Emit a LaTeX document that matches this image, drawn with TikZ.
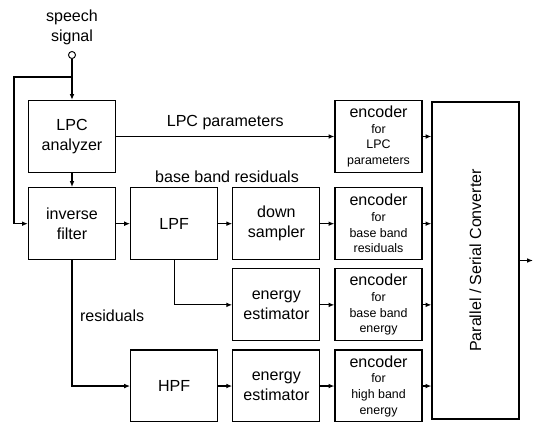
\documentclass[tikz,border=0pt]{standalone}
\usepackage{fontspec}
\setmainfont{Liberation Sans}
\usetikzlibrary{arrows.meta, positioning}

\newcommand{\bigtxt}{\fontsize{13.7}{17}\selectfont}
\newcommand{\smalltxt}{\fontsize{10.6}{13.4}\selectfont}

\tikzset{
  blk/.style={draw, line width=1pt, minimum width=2.61cm, minimum height=2.16cm, align=center, inner sep=1pt, font=\bigtxt},
  enc/.style={blk, font=\smalltxt},
  sig/.style={line width=1pt, -{Latex[length=5pt, width=4pt]}},
}

\begin{document}
\begin{tikzpicture}[x=0.03cm, y=-0.03cm, node distance=0.42cm]
  \useasboundingbox (0,0) rectangle (541,421);

  % input
  \node[align=center, font=\bigtxt, inner sep=0pt] (speech) at (72,27) {speech\\signal};
  \node[draw, circle, line width=0.8pt, minimum size=6pt, inner sep=0pt] (src) at (72,55) {};
  \coordinate (split) at (72,77);
  \coordinate (fbtop) at (14,77);

  % first two columns
  \node[blk] (lpc) at (72,136.5) {LPC\\analyzer};
  \node[blk, below=of lpc] (inv) {inverse\\filter};
  \node[blk, right=of inv] (lpf) {LPF};
  \node[blk, right=of lpf] (down) {down\\sampler};
  \node[blk, below=0.24cm of down] (eng1) {energy\\estimator};
  \node[blk, below=0.24cm of eng1] (eng2) {energy\\estimator};
  \node[blk, left=of eng2] (hpf) {HPF};

  % encoders
  \node[enc, right=of down] (encres) {{\bigtxt encoder}\\for\\base band\\residuals};
  \node[enc] (enclpc) at (encres |- lpc) {{\bigtxt encoder}\\for\\LPC\\parameters};
  \node[enc, right=of eng1] (enceng) {{\bigtxt encoder}\\for\\base band\\energy};
  \node[enc, right=of eng2] (enchigh) {{\bigtxt encoder}\\for\\high band\\energy};

  % converter
  \node[draw, line width=1pt, minimum width=2.61cm, minimum height=9.51cm] (psc) at (475.5,260.5) {};
  \node[rotate=90, font=\bigtxt] (psclabel) at (psc.center) {Parallel / Serial Converter};
  \coordinate (out) at (533,260.5);

  \node[font=\bigtxt] (bbres) at (227,177) {base band residuals};

  % connections
  \draw[line width=1pt] (src) -- (split);
  \draw[sig] (split) -- (lpc);
  \draw[sig] (split) -- (fbtop) |- (inv.west);
  \draw[sig] (lpc) -- (inv);
  \draw[sig] (lpc) -- node[above=2pt, font=\bigtxt] (lpclabel) {LPC parameters} (enclpc);
  \draw[sig] (inv) -- (lpf);
  \draw[sig] (lpf) -- (down);
  \draw[sig] (down) -- (encres);
  \draw[sig] (lpf.south) |- (eng1.west);
  \draw[sig] (eng1) -- (enceng);
  \draw[sig] (inv.south) |- node[right=3pt, pos=0.22, font=\bigtxt] (reslabel) {residuals} (hpf.west);
  \draw[sig] (hpf) -- (eng2);
  \draw[sig] (eng2) -- (enchigh);
  \draw[sig] (enclpc.east) -- (enclpc.east -| psc.west);
  \draw[sig] (encres.east) -- (encres.east -| psc.west);
  \draw[sig] (enceng.east) -- (enceng.east -| psc.west);
  \draw[sig] (enchigh.east) -- (enchigh.east -| psc.west);
  \draw[sig] (psc.east) -- (out);
\end{tikzpicture}
\end{document}
